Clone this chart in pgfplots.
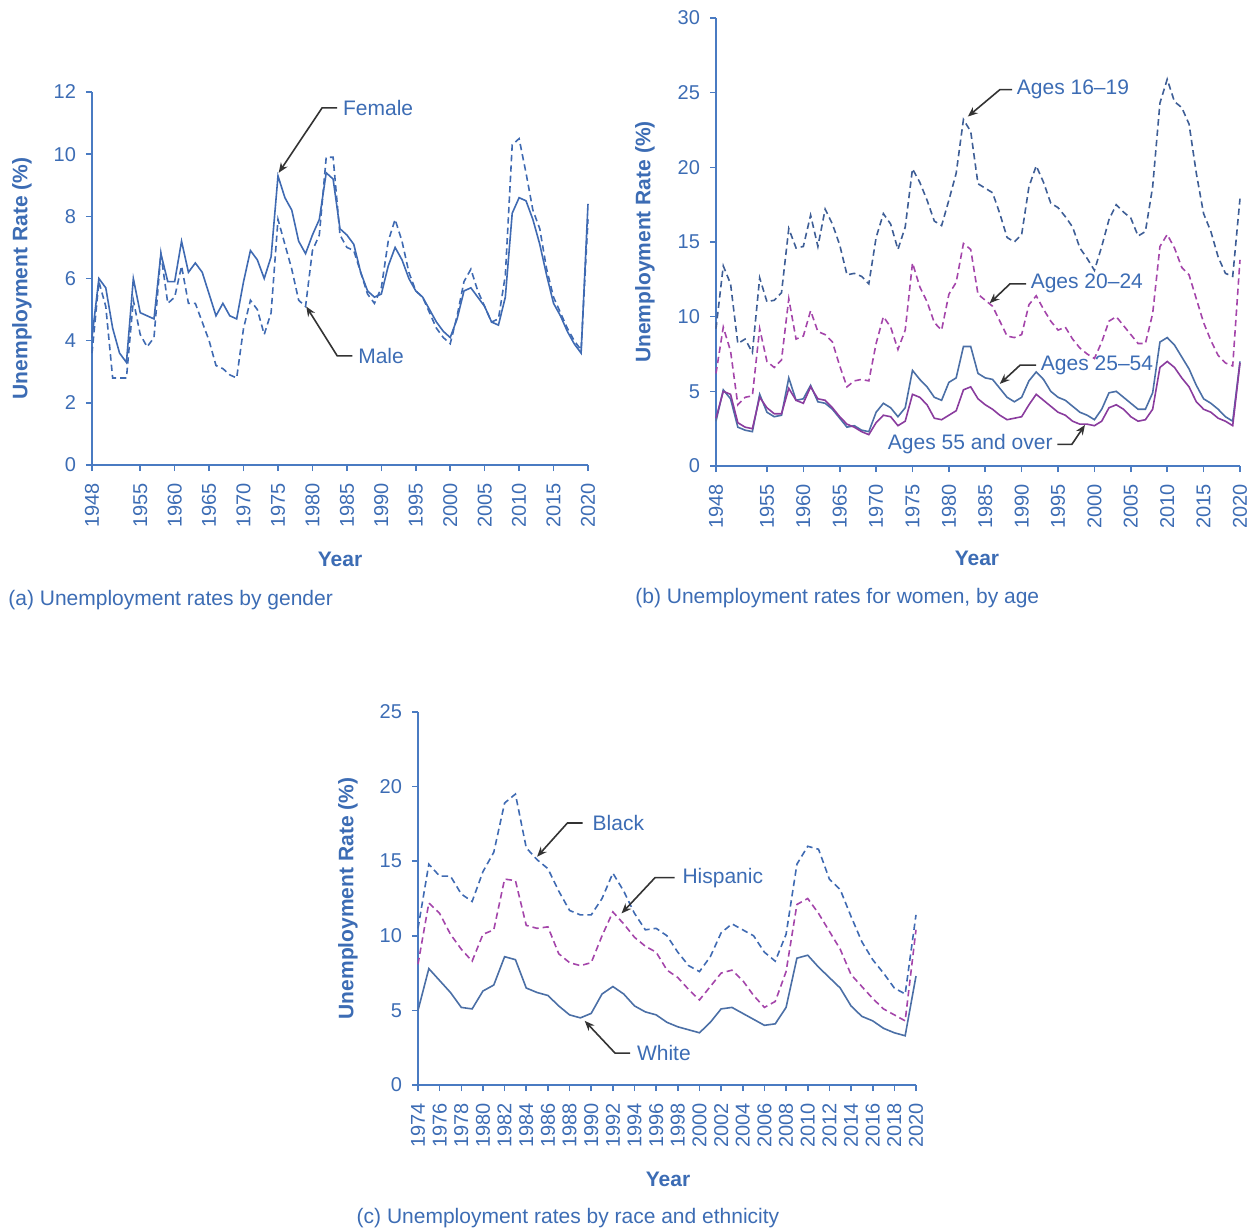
\documentclass[border=0pt]{standalone}
\usepackage{fontspec}
\setmainfont{Liberation Sans}
\usepackage{pgfplots}
\usepackage{pgfplotstable}
\pgfplotsset{compat=1.18}
\usetikzlibrary{arrows.meta}
\definecolor{txtblue}{HTML}{3C6CB4}
\definecolor{axblue}{HTML}{4A7BC2}
\definecolor{lblue}{HTML}{3F6AB2}
\definecolor{dblue}{HTML}{3E5E96}
\definecolor{magen}{HTML}{A445AA}
\definecolor{purp}{HTML}{8A3C9E}
\definecolor{sblue}{HTML}{4B6FA6}

\pgfplotstableread{
year female male
1948 4.1 3.6
1949 6.0 5.9
1950 5.7 5.1
1951 4.4 2.8
1952 3.6 2.8
1953 3.3 2.8
1954 6.0 5.3
1955 4.9 4.2
1956 4.8 3.8
1957 4.7 4.1
1958 6.8 6.8
1959 5.9 5.2
1960 5.9 5.4
1961 7.2 6.4
1962 6.2 5.2
1963 6.5 5.2
1964 6.2 4.6
1965 5.5 4.0
1966 4.8 3.2
1967 5.2 3.1
1968 4.8 2.9
1969 4.7 2.8
1970 5.9 4.4
1971 6.9 5.3
1972 6.6 5.0
1973 6.0 4.2
1974 6.7 4.9
1975 9.3 7.9
1976 8.6 7.1
1977 8.2 6.3
1978 7.2 5.3
1979 6.8 5.1
1980 7.4 6.9
1981 7.9 7.4
1982 9.4 9.9
1983 9.2 9.9
1984 7.6 7.4
1985 7.4 7.0
1986 7.1 6.9
1987 6.2 6.2
1988 5.6 5.5
1989 5.4 5.2
1990 5.5 5.7
1991 6.4 7.2
1992 7.0 7.9
1993 6.6 7.2
1994 6.0 6.2
1995 5.6 5.6
1996 5.4 5.4
1997 5.0 4.9
1998 4.6 4.4
1999 4.3 4.1
2000 4.1 3.9
2001 4.7 4.8
2002 5.6 5.9
2003 5.7 6.3
2004 5.4 5.6
2005 5.1 5.1
2006 4.6 4.6
2007 4.5 4.7
2008 5.4 6.1
2009 8.1 10.3
2010 8.6 10.5
2011 8.5 9.4
2012 7.9 8.2
2013 7.1 7.6
2014 6.1 6.3
2015 5.2 5.4
2016 4.8 4.9
2017 4.3 4.4
2018 3.9 4.0
2019 3.6 3.7
2020 8.4 7.9
}\gender

\pgfplotstableread{
year a1619 a2024 a2554 a55
1948 9.2 6.2 3.0 3.2
1949 13.4 9.3 5.1 5.0
1950 12.2 7.7 4.5 4.8
1951 8.2 4.1 2.6 2.9
1952 8.5 4.6 2.4 2.6
1953 7.6 4.7 2.3 2.5
1954 12.6 9.2 4.8 4.6
1955 11.0 7.0 3.6 3.9
1956 11.1 6.6 3.3 3.5
1957 11.6 7.1 3.4 3.5
1958 15.9 11.2 5.9 5.2
1959 14.6 8.5 4.4 4.4
1960 14.7 8.7 4.5 4.2
1961 16.8 10.4 5.4 5.3
1962 14.7 9.0 4.3 4.5
1963 17.2 8.8 4.2 4.4
1964 16.2 8.3 3.8 3.9
1965 14.8 6.7 3.2 3.3
1966 12.8 5.3 2.6 2.8
1967 12.9 5.7 2.7 2.6
1968 12.7 5.8 2.4 2.3
1969 12.2 5.7 2.3 2.1
1970 15.3 8.2 3.6 2.9
1971 16.9 10.0 4.2 3.4
1972 16.2 9.3 3.9 3.3
1973 14.5 7.8 3.3 2.7
1974 16.0 9.1 3.9 3.0
1975 19.9 13.6 6.4 4.8
1976 19.0 12.0 5.8 4.6
1977 17.8 11.0 5.3 4.1
1978 16.4 9.6 4.6 3.2
1979 16.1 9.1 4.4 3.1
1980 17.8 11.5 5.6 3.4
1981 19.6 12.3 5.9 3.7
1982 23.2 14.9 8.0 5.1
1983 22.4 14.5 8.0 5.3
1984 18.9 11.5 6.2 4.5
1985 18.6 11.1 5.9 4.1
1986 18.3 10.7 5.8 3.8
1987 16.9 9.7 5.2 3.4
1988 15.3 8.7 4.6 3.1
1989 15.0 8.6 4.3 3.2
1990 15.5 8.8 4.6 3.3
1991 18.7 10.8 5.7 4.1
1992 20.1 11.4 6.3 4.8
1993 19.0 10.5 5.8 4.4
1994 17.6 9.7 5.0 4.0
1995 17.3 9.1 4.6 3.6
1996 16.7 9.3 4.4 3.4
1997 16.0 8.5 4.0 3.0
1998 14.6 7.9 3.6 2.8
1999 13.9 7.5 3.4 2.8
2000 13.1 7.2 3.1 2.7
2001 14.7 8.3 3.8 3.0
2002 16.5 9.7 4.9 3.9
2003 17.5 10.0 5.0 4.1
2004 17.0 9.4 4.6 3.8
2005 16.6 8.8 4.2 3.3
2006 15.4 8.2 3.8 3.0
2007 15.7 8.2 3.8 3.1
2008 18.7 10.2 4.9 3.8
2009 24.3 14.7 8.3 6.6
2010 25.9 15.5 8.6 7.0
2011 24.4 14.6 8.1 6.6
2012 24.0 13.3 7.3 5.9
2013 22.9 12.8 6.5 5.3
2014 19.6 11.2 5.4 4.3
2015 16.9 9.6 4.5 3.8
2016 15.7 8.4 4.2 3.6
2017 14.0 7.4 3.8 3.2
2018 12.9 6.9 3.3 3.0
2019 12.7 6.7 3.0 2.7
2020 17.9 13.8 7.0 6.9
}\ages

\pgfplotstableread{
year black hisp white
1974 10.5 8.1 5.0
1975 14.8 12.2 7.8
1976 14.0 11.5 7.0
1977 14.0 10.1 6.2
1978 12.8 9.1 5.2
1979 12.3 8.3 5.1
1980 14.3 10.1 6.3
1981 15.6 10.4 6.7
1982 18.9 13.8 8.6
1983 19.5 13.7 8.4
1984 15.9 10.7 6.5
1985 15.1 10.5 6.2
1986 14.5 10.6 6.0
1987 13.0 8.8 5.3
1988 11.7 8.2 4.7
1989 11.4 8.0 4.5
1990 11.4 8.2 4.8
1991 12.5 10.0 6.1
1992 14.2 11.6 6.6
1993 13.0 10.8 6.1
1994 11.5 9.9 5.3
1995 10.4 9.3 4.9
1996 10.5 8.9 4.7
1997 10.0 7.7 4.2
1998 8.9 7.2 3.9
1999 8.0 6.4 3.7
2000 7.6 5.7 3.5
2001 8.6 6.6 4.2
2002 10.2 7.5 5.1
2003 10.8 7.7 5.2
2004 10.4 7.0 4.8
2005 10.0 6.0 4.4
2006 8.9 5.2 4.0
2007 8.3 5.6 4.1
2008 10.1 7.6 5.2
2009 14.8 12.1 8.5
2010 16.0 12.5 8.7
2011 15.8 11.5 7.9
2012 13.8 10.3 7.2
2013 13.1 9.1 6.5
2014 11.3 7.4 5.3
2015 9.6 6.6 4.6
2016 8.4 5.8 4.3
2017 7.5 5.1 3.8
2018 6.5 4.7 3.5
2019 6.1 4.3 3.3
2020 11.4 10.4 7.3
}\race

\pgfplotsset{
  myax/.style={
    scale only axis, axis lines=left,
    axis line style={-, axblue, line width=0.9pt},
    tick align=outside, major tick length=3pt,
    tick style={axblue, line width=0.8pt},
    every tick label/.append style={font=\fontsize{10}{12}\selectfont, text=txtblue},
    xticklabel style={rotate=90, anchor=east, xshift=-2.5pt},
    yticklabel style={xshift=-1.5pt},
    /pgf/number format/assume math mode=true,
    /pgf/number format/1000 sep={},
    scaled x ticks=false,
    label style={font=\bfseries\fontsize{10.5}{12}\selectfont, text=txtblue},
    clip=false,
    anchor=south west,
  },
  ln/.style={line width=0.8pt, mark=none},
  dsh/.style={dash pattern=on 3.2pt off 2pt},
}
\tikzset{
  ann/.style={draw=black!80, line width=0.8pt},
  arr/.style={ann, -{Stealth[length=5pt,width=4pt]}},
  lab/.style={font=\fontsize{10.5}{12}\selectfont, text=txtblue, inner sep=0pt},
}

\begin{document}
\begin{tikzpicture}
\path[use as bounding box] (0,0) rectangle (625pt,-615pt);

% ---------- (a) ----------
\begin{axis}[myax,
  at={(46pt,-232.5pt)}, width=248pt, height=186.5pt,
  xmin=1948, xmax=2020, ymin=0, ymax=12,
  xtick={1948,1955,1960,1965,1970,1975,1980,1985,1990,1995,2000,2005,2010,2015,2020},
  ytick={0,2,4,6,8,10,12},
  xlabel={Year}, ylabel={Unemployment Rate (\%)},
  xlabel style={at={(axis description cs:0.5,-0.252)}, anchor=center},
  ylabel style={at={(axis description cs:-0.141,0.5)}, anchor=center},
]
\addplot[ln, lblue, dsh] table[x=year, y=male] {\gender};
\addplot[ln, lblue] table[x=year, y=female] {\gender};
\draw[arr] (axis cs:1983.6,11.49) -- (axis cs:1981.4,11.49) -- (axis cs:1975.1,9.4);
\node[lab, anchor=west] at (axis cs:1984.4,11.49) {Female};
\draw[arr] (axis cs:1985.8,3.51) -- (axis cs:1983.6,3.51) -- (axis cs:1979.1,5.1);
\node[lab, anchor=west] at (axis cs:1986.6,3.51) {Male};
\end{axis}

% ---------- (b) ----------
\begin{axis}[myax,
  at={(358pt,-233pt)}, width=262pt, height=224pt,
  xmin=1948, xmax=2020, ymin=0, ymax=30,
  xtick={1948,1955,1960,1965,1970,1975,1980,1985,1990,1995,2000,2005,2010,2015,2020},
  ytick={0,5,10,15,20,25,30},
  xlabel={Year}, ylabel={Unemployment Rate (\%)},
  xlabel style={at={(axis description cs:0.498,-0.207)}, anchor=center},
  ylabel style={at={(axis description cs:-0.1355,0.5)}, anchor=center},
]
\addplot[ln, dblue, dsh] table[x=year, y=a1619] {\ages};
\addplot[ln, magen, dsh] table[x=year, y=a2024] {\ages};
\addplot[ln, sblue] table[x=year, y=a2554] {\ages};
\addplot[ln, purp] table[x=year, y=a55] {\ages};
\draw[arr] (axis cs:1988.7,25.2) -- (axis cs:1987.0,25.2) -- (axis cs:1982.6,23.4);
\node[lab, anchor=west] at (axis cs:1989.3,25.2) {Ages 16–19};
\draw[arr] (axis cs:1990.6,12.2) -- (axis cs:1988.4,12.2) -- (axis cs:1985.6,10.9);
\node[lab, anchor=west] at (axis cs:1991.2,12.2) {Ages 20–24};
\draw[arr] (axis cs:1992.0,6.76) -- (axis cs:1989.8,6.76) -- (axis cs:1987.0,5.5);
\node[lab, anchor=west] at (axis cs:1992.6,6.76) {Ages 25–54};
\draw[arr] (axis cs:1994.9,1.45) -- (axis cs:1996.9,1.45) -- (axis cs:1998.7,2.75);
\node[lab, anchor=east] at (axis cs:1994.3,1.45) {Ages 55 and over};
\end{axis}

% ---------- (c) ----------
\begin{axis}[myax,
  at={(209pt,-542.5pt)}, width=249pt, height=186.5pt,
  xmin=1974, xmax=2020, ymin=0, ymax=25,
  xtick={1974,1976,...,2020},
  ytick={0,5,10,15,20,25},
  xlabel={Year}, ylabel={Unemployment Rate (\%)},
  xlabel style={at={(axis description cs:0.502,-0.252)}, anchor=center},
  ylabel style={at={(axis description cs:-0.1406,0.5)}, anchor=center},
]
\addplot[ln, lblue, dsh] table[x=year, y=black] {\race};
\addplot[ln, magen, dsh] table[x=year, y=hisp] {\race};
\addplot[ln, sblue] table[x=year, y=white] {\race};
\draw[arr] (axis cs:1989.2,17.56) -- (axis cs:1987.8,17.56) -- (axis cs:1985.0,15.3);
\node[lab, anchor=west] at (axis cs:1990.1,17.56) {Black};
\draw[arr] (axis cs:1997.7,13.9) -- (axis cs:1995.9,13.9) -- (axis cs:1992.8,11.5);
\node[lab, anchor=west] at (axis cs:1998.4,13.9) {Hispanic};
\draw[arr] (axis cs:1993.6,2.14) -- (axis cs:1992.2,2.14) -- (axis cs:1989.4,4.3);
\node[lab, anchor=west] at (axis cs:1994.2,2.14) {White};
\end{axis}

\node[lab, anchor=west] at (4pt,-300pt) {(a) Unemployment rates by gender};
\node[lab, anchor=west] at (317.5pt,-299pt) {(b) Unemployment rates for women, by age};
\node[lab, anchor=center] at (284pt,-609pt) {(c) Unemployment rates by race and ethnicity};
\end{tikzpicture}
\end{document}
